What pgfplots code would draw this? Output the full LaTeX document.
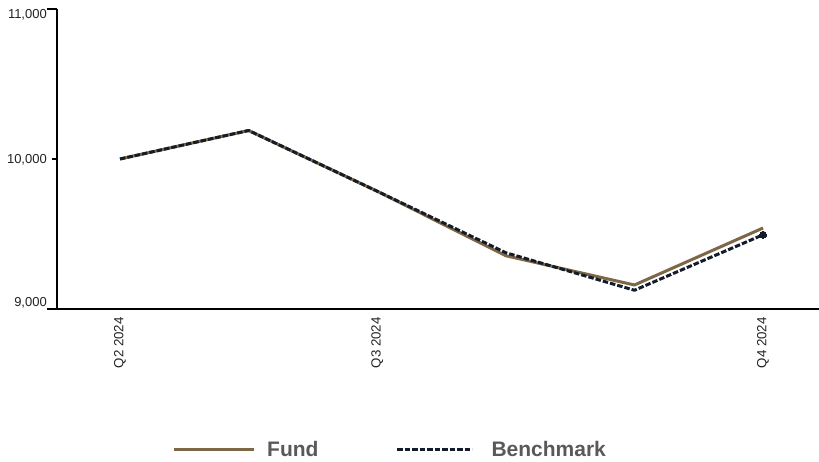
\documentclass[border=0pt]{standalone}
\usepackage{pgfplots}
\pgfplotsset{compat=1.18}
\usepackage{fontspec}
\setmainfont{Liberation Sans}
\definecolor{fundc}{RGB}{124,104,70}
\definecolor{benchc}{RGB}{20,28,43}
\definecolor{legtext}{RGB}{89,89,89}
\definecolor{ticktext}{RGB}{34,34,34}
\begin{document}
\begin{tikzpicture}
\begin{axis}[
  scale only axis, width=762pt, height=300pt,
  xmin=-0.49, xmax=5.435, ymin=9000, ymax=11000,
  axis x line*=bottom, axis y line*=left,
  axis line style={line width=2.5pt, black, -},
  clip=false,
  xtick={0,2,5},
  xticklabels={\mbox{Q2 2024},\mbox{Q3 2024},\mbox{Q4 2024}},
  x tick style={draw=none},
  x tick label style={rotate=90, anchor=east, inner sep=0pt, font=\fontsize{13.3}{13}\selectfont, text=ticktext},
  xticklabel shift=3pt,
  ytick={9000,10000,11000},
  yticklabels={{\raisebox{2.2pt}[0pt][0pt]{9,000}},{\raisebox{-4.7pt}[0pt][0pt]{10,000}},{\raisebox{-9.5pt}[0pt][0pt]{11,000}}},
  tick align=outside,
  major tick length=5pt,
  y tick style={line width=2pt, black},
  y tick label style={anchor=east, inner sep=0pt, font=\fontsize{13}{13}\selectfont, text=ticktext},
  yticklabel shift=5pt,
  legend columns=-1,
  legend style={at={(0,0)}, anchor=west, xshift=115pt, yshift=-141pt,
    draw=none, fill=none, inner sep=0pt, column sep=0pt,
    nodes={inner sep=0pt},
    font=\fontsize{21}{21}\selectfont\bfseries, text=legtext},
  legend image code/.code={\draw[#1] (0pt,0pt) -- (80pt,0pt);},
]
\addplot[fundc, line width=3pt, line join=round]
  coordinates {(0,10000)(1,10190)(2,9785)(3,9355)(4,9160)(5,9540)};
\addlegendentry{\hspace*{12pt}Fund\hspace*{77pt}}
\addplot[benchc, line width=3pt, line join=round, dash pattern=on 5.5pt off 2pt,
  mark=*, mark indices={6}, mark size=3.5pt,
  mark options={solid, fill=benchc, draw=benchc, line width=0pt},
  legend image code/.code={\draw[benchc, line width=3pt, dash pattern=on 5.5pt off 2pt] (0pt,0pt) -- (75pt,0pt);}]
  coordinates {(0,10000)(1,10190)(2,9785)(3,9375)(4,9125)(5,9495)};
\addlegendentry{\hspace*{18pt}Benchmark}
\draw[line width=2pt, black] (rel axis cs:0,1) -- ++(-10pt,0pt);
\draw[line width=2.5pt, black] (rel axis cs:0,0) -- ++(-10pt,0pt);
\end{axis}
\pgfresetboundingbox
\path (-57pt,-153pt) rectangle (762pt,309pt);
\end{tikzpicture}
\end{document}
